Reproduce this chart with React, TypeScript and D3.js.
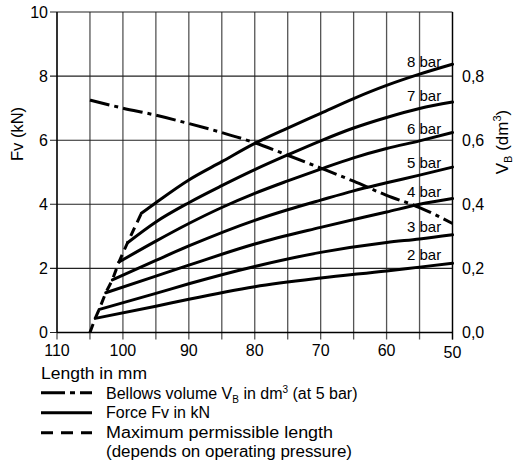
import React from "react";
import * as d3 from "d3";

// Length (mm) vs force Fv (kN) per pressure
const pressures = ["2 bar", "3 bar", "4 bar", "5 bar", "6 bar", "7 bar", "8 bar"];
const force2: [number, number][] = [[104.2, 0.44], [95, 0.82], [90, 1.04], [80, 1.43], [70, 1.70], [60, 1.92], [55, 2.04], [50, 2.16]];
const force3: [number, number][] = [[103.6, 0.72], [95, 1.22], [90, 1.52], [80, 2.06], [70, 2.50], [60, 2.81], [55, 2.92], [50, 3.05]];
const force4: [number, number][] = [[102.6, 1.24], [95, 1.76], [90, 2.10], [80, 2.76], [70, 3.28], [60, 3.76], [55, 4.00], [50, 4.18]];
const force5: [number, number][] = [[101.6, 1.64], [95, 2.25], [90, 2.70], [80, 3.50], [75, 3.83], [70, 4.13], [65, 4.42], [60, 4.67], [55, 4.91], [50, 5.16]];
const force6: [number, number][] = [[100.6, 2.20], [95, 2.85], [90, 3.40], [85, 3.90], [80, 4.34], [75, 4.73], [70, 5.10], [65, 5.45], [60, 5.74], [55, 5.98], [50, 6.24]];
const force7: [number, number][] = [[99.3, 2.80], [95, 3.45], [90, 4.05], [85, 4.58], [80, 5.08], [75, 5.54], [70, 5.98], [65, 6.38], [60, 6.71], [55, 6.99], [50, 7.19]];
const force8: [number, number][] = [[97.2, 3.72], [95, 4.05], [90, 4.76], [85, 5.33], [80, 5.90], [75, 6.38], [70, 6.84], [65, 7.30], [60, 7.71], [55, 8.06], [50, 8.37]];
const forceSeries = [force2, force3, force4, force5, force6, force7, force8];

// Bellows volume (dm3, right axis) at 5 bar
const volume: [number, number][] = [[105, 0.725], [100, 0.70], [95, 0.678], [90, 0.652], [85, 0.624], [80, 0.592], [75, 0.553], [70, 0.513], [65, 0.472], [60, 0.428], [55, 0.39], [50, 0.34]];

// Maximum permissible length (kN scale)
const maxLength: [number, number][] = [[105, 0], [104.2, 0.44], [103.6, 0.72], [102.6, 1.24], [101.6, 1.64], [100.6, 2.20], [99.3, 2.80], [97.2, 3.72]];

const xTicks = [110, 100, 90, 80, 70, 60, 50];
const xGrid = [110, 105, 100, 95, 90, 85, 80, 75, 70, 65, 60, 55, 50];
const yTicks = [0, 2, 4, 6, 8, 10];
const yRightTicks = [0, 0.2, 0.4, 0.6, 0.8];
const yRightLabels = ["0,0", "0,2", "0,4", "0,6", "0,8"];

const FONT = "'Liberation Sans', Arial, Helvetica, sans-serif";

export default function App() {
  const W = 514, H = 468;
  const x = d3.scaleLinear().domain([110, 50]).range([57, 452.5]);
  const y = d3.scaleLinear().domain([0, 10]).range([332.5, 12]);
  const yR = d3.scaleLinear().domain([0, 1]).range([332.5, 12]);

  const lineF = d3.line<[number, number]>().x(d => x(d[0])).y(d => y(d[1])).curve(d3.curveMonotoneX);
  const lineV = d3.line<[number, number]>().x(d => x(d[0])).y(d => yR(d[1])).curve(d3.curveMonotoneX);
  const lineD = d3.line<[number, number]>().x(d => x(d[0])).y(d => y(d[1])).curve(d3.curveLinear);

  const gridColor = "#555";

  return (
    <svg width={W} height={H} style={{ position: "absolute", left: 0, top: 0 }} fontFamily={FONT}>
      <rect width={W} height={H} fill="#fff" />
      {/* vertical grid */}
      {xGrid.map(v => (
        <line key={"gx" + v} x1={x(v)} x2={x(v)} y1={y(10)} y2={y(0) + 7} stroke={gridColor} strokeWidth={1.3} />
      ))}
      {/* horizontal grid */}
      {yTicks.map(v => (
        <line key={"gy" + v} x1={x(110) - 7} x2={x(50)} y1={y(v)} y2={y(v)} stroke="#222" strokeWidth={1.1} />
      ))}
      {/* frame */}
      <line x1={x(110)} x2={x(110)} y1={y(10)} y2={y(0)} stroke="#000" strokeWidth={1.3} />
      <line x1={x(50)} x2={x(50)} y1={y(10)} y2={y(0) + 7} stroke="#000" strokeWidth={1.3} />
      <line x1={x(110)} x2={x(50)} y1={y(0)} y2={y(0)} stroke="#000" strokeWidth={1.3} />

      {/* left tick labels */}
      {yTicks.map(v => (
        <text key={"yl" + v} x={48} y={y(v)} dy="0.36em" textAnchor="end" fontSize={16}>{v}</text>
      ))}
      {/* right tick labels */}
      {yRightTicks.map((v, i) => (
        <text key={"yr" + v} x={462} y={yR(v)} dy="0.36em" textAnchor="start" fontSize={16}>{yRightLabels[i]}</text>
      ))}
      {/* bottom tick labels */}
      {xTicks.map(v => (
        <text key={"xl" + v} x={x(v)} y={v === 50 ? 358 : 356} textAnchor="middle" fontSize={16}>{v}</text>
      ))}

      {/* axis titles */}
      <text transform={`translate(23,134) rotate(-90)`} textAnchor="middle" fontSize={16.5}>Fv (kN)</text>
      <text transform={`translate(508,142) rotate(-90)`} textAnchor="middle" fontSize={17}>
        V<tspan fontSize={11} dy={4}>B</tspan><tspan dy={-4}> (dm</tspan><tspan fontSize={11} dy={-7}>3</tspan><tspan dy={7}>)</tspan>
      </text>

      {/* force curves */}
      {forceSeries.map((s, i) => (
        <path key={"f" + i} d={lineF(s) || ""} fill="none" stroke="#000" strokeWidth={3} strokeLinecap="round" />
      ))}
      {/* pressure labels */}
      {forceSeries.map((s, i) => {
        const p55 = s.find(d => d[0] === 55)!;
        return (
          <text key={"pl" + i} x={407} y={y(p55[1]) - 7} fontSize={15}>{pressures[i]}</text>
        );
      })}

      {/* volume dash-dot */}
      <path d={lineV(volume) || ""} fill="none" stroke="#000" strokeWidth={3} strokeDasharray="20 5 4 5" />
      {/* max length dashed */}
      <path d={lineD(maxLength) || ""} fill="none" stroke="#000" strokeWidth={3} strokeDasharray="9 6" />

      {/* legend */}
      <g fontSize={16}>
        <text x={41} y={379} textLength={106} lengthAdjust="spacingAndGlyphs">Length in mm</text>
        <line x1={41} x2={92} y1={392.7} y2={392.7} stroke="#000" strokeWidth={3} strokeDasharray="24 5 5 5" />
        <text x={106} y={399}>
          Bellows volume V<tspan fontSize={10} dy={4}>B</tspan><tspan dy={-4}> in dm</tspan><tspan fontSize={10} dy={-6}>3</tspan><tspan dy={6}> (at 5 bar)</tspan>
        </text>
        <line x1={41} x2={92} y1={412.7} y2={412.7} stroke="#000" strokeWidth={3} />
        <text x={106} y={418}>Force Fv in kN</text>
        <line x1={41} x2={92} y1={432.7} y2={432.7} stroke="#000" strokeWidth={3} strokeDasharray="12 8" />
        <text x={106} y={438} textLength={227} lengthAdjust="spacingAndGlyphs">Maximum permissible length</text>
        <text x={106} y={457} textLength={246} lengthAdjust="spacingAndGlyphs">(depends on operating pressure)</text>
      </g>
    </svg>
  );
}
